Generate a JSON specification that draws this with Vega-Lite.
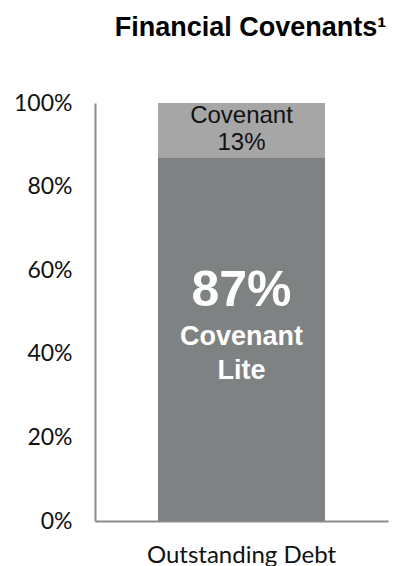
{
  "$schema": "https://vega.github.io/schema/vega-lite/v6.json",
  "width": 293,
  "height": 418,
  "autosize": {"type": "none"},
  "padding": {"left": 95, "top": 103, "right": 5, "bottom": 45},
  "background": "white",
  "title": {
    "text": "Financial Covenants¹",
    "font": "Liberation Sans",
    "fontSize": 27,
    "fontWeight": "bold",
    "color": "#000000",
    "anchor": "middle",
    "dx": 9,
    "offset": 50
  },
  "data": {
    "values": [
      {"category": "Outstanding Debt", "type": "Covenant Lite", "value": 87},
      {"category": "Outstanding Debt", "type": "Covenant", "value": 13}
    ]
  },
  "transform": [
    {"stack": "value", "groupby": ["category"], "sort": [{"field": "value", "order": "descending"}], "as": ["v0", "v1"]},
    {"calculate": "(datum.v0 + datum.v1) / 2", "as": "mid"},
    {"calculate": "datum.value + '%'", "as": "pct"}
  ],
  "encoding": {
    "x": {
      "field": "category",
      "type": "nominal",
      "title": null,
      "scale": {"paddingInner": 0, "paddingOuter": 0.377},
      "axis": {
        "labelAngle": 0,
        "labelFont": "Lato",
        "labelFontSize": 24,
        "labelColor": "#111111",
        "labelPadding": 22,
        "labelLimit": 0,
        "ticks": false,
        "domainColor": "#8c8c8c",
        "domainWidth": 2
      }
    }
  },
  "config": {"view": {"stroke": null}},
  "layer": [
    {
      "mark": {"type": "bar"},
      "encoding": {
        "y": {
          "field": "v0",
          "type": "quantitative",
          "title": null,
          "scale": {"domain": [0, 100], "nice": false},
          "axis": {
            "values": [0, 20, 40, 60, 80, 100],
            "labelExpr": "datum.value + '%'",
            "labelFont": "Lato",
            "labelFontSize": 23,
            "labelColor": "#111111",
            "labelPadding": 23,
            "ticks": false,
            "grid": false,
            "domainColor": "#8c8c8c",
            "domainWidth": 2
          }
        },
        "y2": {"field": "v1"},
        "color": {
          "field": "type",
          "type": "nominal",
          "scale": {"domain": ["Covenant Lite", "Covenant"], "range": ["#7F8282", "#A6A6A6"]},
          "legend": null
        }
      }
    },
    {
      "transform": [{"filter": "datum.type == 'Covenant'"}],
      "mark": {"type": "text", "font": "Liberation Sans", "fontSize": 24, "color": "#111111", "baseline": "middle", "dy": -14},
      "encoding": {
        "y": {"field": "mid", "type": "quantitative"},
        "text": {"field": "type"}
      }
    },
    {
      "transform": [{"filter": "datum.type == 'Covenant'"}],
      "mark": {"type": "text", "font": "Liberation Sans", "fontSize": 24, "color": "#111111", "baseline": "middle", "dy": 13},
      "encoding": {
        "y": {"field": "mid", "type": "quantitative"},
        "text": {"field": "pct"}
      }
    },
    {
      "transform": [{"filter": "datum.type == 'Covenant Lite'"}],
      "mark": {"type": "text", "font": "Liberation Sans", "fontSize": 50, "fontWeight": "bold", "color": "white", "baseline": "middle", "dy": -48},
      "encoding": {
        "y": {"field": "mid", "type": "quantitative"},
        "text": {"field": "pct"}
      }
    },
    {
      "transform": [{"filter": "datum.type == 'Covenant Lite'"}],
      "mark": {"type": "text", "font": "Liberation Sans", "fontSize": 27, "fontWeight": "bold", "color": "white", "baseline": "middle", "lineBreak": " ", "lineHeight": 33.5, "dy": -2},
      "encoding": {
        "y": {"field": "mid", "type": "quantitative"},
        "text": {"field": "type"}
      }
    }
  ]
}
